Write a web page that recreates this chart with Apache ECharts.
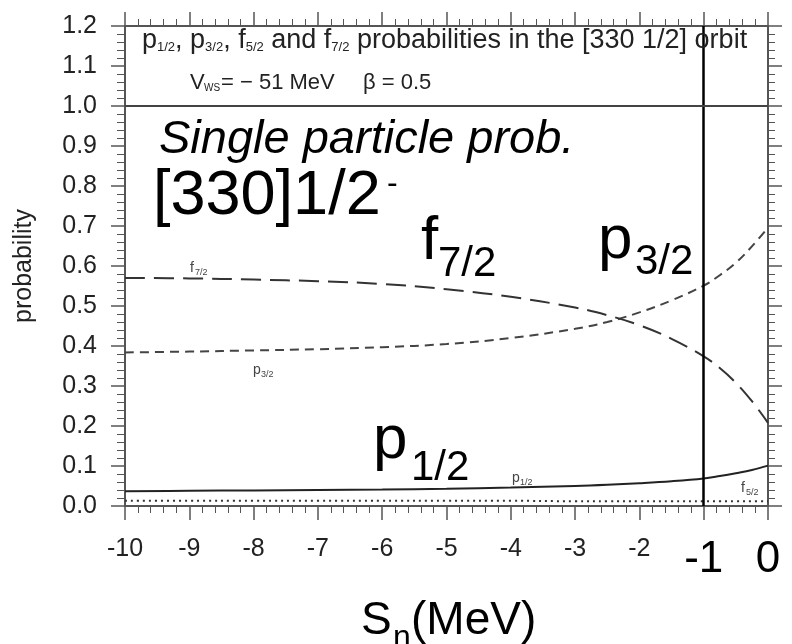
<!DOCTYPE html>
<html>
<head>
<meta charset="utf-8">
<title>Single particle probability [330]1/2-</title>
<script src="https://cdn.jsdelivr.net/npm/echarts@6/dist/echarts.min.js"></script>
<style>
  html, body { margin: 0; padding: 0; background: #fff; }
  #main { width: 792px; height: 644px; }
</style>
</head>
<body>
<div id="main"></div>
<script type="text/javascript">
    // neutron separation energy S_n (MeV)
    var sn = [-10, -9, -8, -7, -6, -5, -4, -3, -2.5, -2, -1.5, -1, -0.75, -0.5, -0.25, 0];
    // probabilities
    var p12 = [0.037, 0.038, 0.039, 0.040, 0.041, 0.043, 0.046, 0.050, 0.053, 0.057, 0.062, 0.069, 0.075, 0.082, 0.090, 0.101];
    var p32 = [0.384, 0.386, 0.389, 0.392, 0.397, 0.405, 0.420, 0.443, 0.460, 0.484, 0.514, 0.551, 0.577, 0.608, 0.649, 0.696];
    var f52 = [0.013, 0.013, 0.013, 0.013, 0.013, 0.013, 0.013, 0.012, 0.012, 0.012, 0.012, 0.012, 0.012, 0.012, 0.012, 0.012];
    var f72 = [0.570, 0.569, 0.566, 0.562, 0.555, 0.542, 0.523, 0.496, 0.477, 0.452, 0.418, 0.374, 0.345, 0.308, 0.262, 0.208];
    // tick labels drawn large on the x axis
    var bigXLabels = [-1, 0];
    // marker lines
    var cutX = -1;
    var fullY = 1.0;

    var FONT = '"Liberation Sans", Arial, Helvetica, sans-serif';

    function pairs(ys) {
        return sn.map(function (x, i) { return [x, ys[i]]; });
    }

    function txt(x, y, s, size, extra) {
        var st = {text: s, fontSize: size, fontFamily: FONT, fill: '#000', align: 'left', verticalAlign: 'middle'};
        for (var k in (extra || {})) st[k] = extra[k];
        return {type: 'text', x: x, y: y, z: 100, silent: true, style: st};
    }

    var axisCol = '#555';

    // frame axis, shared look for all four sides
    function frameAxis(extra) {
        var a = {
            type: 'value',
            axisLine: {show: true, onZero: false, lineStyle: {color: axisCol, width: 2}},
            axisTick: {show: true, length: 14, lineStyle: {color: axisCol, width: 1.5}},
            minorTick: {show: true, splitNumber: 5, length: 7, lineStyle: {color: axisCol}},
            splitLine: {show: false},
            axisLabel: {show: false}
        };
        for (var k in extra) a[k] = extra[k];
        return a;
    }

    var chart = echarts.init(document.getElementById('main'));
    chart.setOption({
        animation: false,
        backgroundColor: '#fff',
        grid: {left: 125, right: 24, top: 26, bottom: 138},
        xAxis: [
            frameAxis({
                min: -10, max: 0, interval: 1, position: 'bottom',
                axisLabel: {
                    margin: 31, fontFamily: FONT,
                    formatter: function (v) {
                        return bigXLabels.indexOf(v) >= 0 ? '{big|' + v + '}' : '{n|' + v + '}';
                    },
                    rich: {
                        n: {fontSize: 25, lineHeight: 24, color: '#222', fontFamily: FONT},
                        big: {fontSize: 44, lineHeight: 46, color: '#000', fontFamily: FONT}
                    }
                }
            }),
            frameAxis({min: -10, max: 0, interval: 1, position: 'top'})
        ],
        yAxis: [
            frameAxis({
                min: 0, max: 1.2, interval: 0.1, position: 'left',
                name: 'probability', nameLocation: 'middle', nameGap: 88, nameRotate: 90,
                nameTextStyle: {fontSize: 25, fontFamily: FONT, color: '#222'},
                minorTick: {show: true, splitNumber: 5, length: 8, lineStyle: {color: axisCol}},
                axisLabel: {
                    show: true, margin: 28, fontSize: 25, fontFamily: FONT, color: '#222',
                    formatter: function (v) { return v.toFixed(1); }
                }
            }),
            frameAxis({min: 0, max: 1.2, interval: 0.1, position: 'right'})
        ],
        series: [{
            name: 'p1/2', type: 'line', data: pairs(p12), smooth: 0.4, showSymbol: false,
            lineStyle: {color: '#222', width: 2, type: 'solid'},
            markLine: {
                silent: true, symbol: 'none', label: {show: false},
                data: [
                    {xAxis: cutX, lineStyle: {color: '#000', width: 2.5, type: 'solid'}},
                    {yAxis: fullY, lineStyle: {color: '#444', width: 2, type: 'solid'}}
                ]
            }
        }, {
            name: 'p3/2', type: 'line', data: pairs(p32), smooth: 0.4, showSymbol: false,
            lineStyle: {color: '#444', width: 2, type: [9, 6]}
        }, {
            name: 'f5/2', type: 'line', data: pairs(f52), smooth: 0.4, showSymbol: false,
            lineStyle: {color: '#333', width: 2, type: [2, 4]}
        }, {
            name: 'f7/2', type: 'line', data: pairs(f72), smooth: 0.4, showSymbol: false,
            lineStyle: {color: '#333', width: 2, type: [20, 9]}
        }],
        graphic: [
            // box header text
            {
                type: 'text', x: 142, y: 41, z: 100, silent: true,
                style: {
                    text: '{m|p}{s|1/2}{m|, p}{s|3/2}{m|, f}{s|5/2}{m| and f}{s|7/2}{m| probabilities in the [330 1/2] orbit}',
                    align: 'left', verticalAlign: 'middle',
                    rich: {
                        m: {fontSize: 27, lineHeight: 26, fontFamily: FONT, fill: '#222'},
                        s: {fontSize: 13, lineHeight: 20, verticalAlign: 'bottom', fontFamily: FONT, fill: '#222'}
                    }
                }
            },
            txt(190, 83, 'V', 22, {fill: '#222'}),
            txt(204, 88, 'WS', 10, {fill: '#222'}),
            txt(221, 83, '= \u2212 51 MeV', 22, {fill: '#222'}),
            txt(363, 83, '\u03b2 = 0.5', 22, {fill: '#222'}),
            // large annotations
            txt(159, 140, 'Single particle prob.', 47, {fontStyle: 'italic'}),
            txt(153, 197, '[330]1/2', 63),
            txt(387, 184, '-', 32),
            txt(421, 242, 'f', 62),
            txt(438, 264, '7/2', 42),
            txt(598, 241, 'p', 62),
            txt(635, 262, '3/2', 42),
            txt(373, 441, 'p', 62),
            txt(411, 468, '1/2', 42),
            txt(361, 621, 'S', 46),
            txt(393, 638, 'n', 32),
            txt(411, 621, '(MeV)', 46),
            // small curve labels
            txt(190, 268, 'f', 14, {fill: '#444'}),
            txt(195, 273, '7/2', 9, {fill: '#444'}),
            txt(253, 370, 'p', 14, {fill: '#444'}),
            txt(261, 375, '3/2', 9, {fill: '#444'}),
            txt(512, 478, 'p', 14, {fill: '#444'}),
            txt(520, 483, '1/2', 9, {fill: '#444'}),
            txt(741, 488, 'f', 14, {fill: '#444'}),
            txt(746, 493, '5/2', 9, {fill: '#444'})
        ]
    });
</script>
</body>
</html>
